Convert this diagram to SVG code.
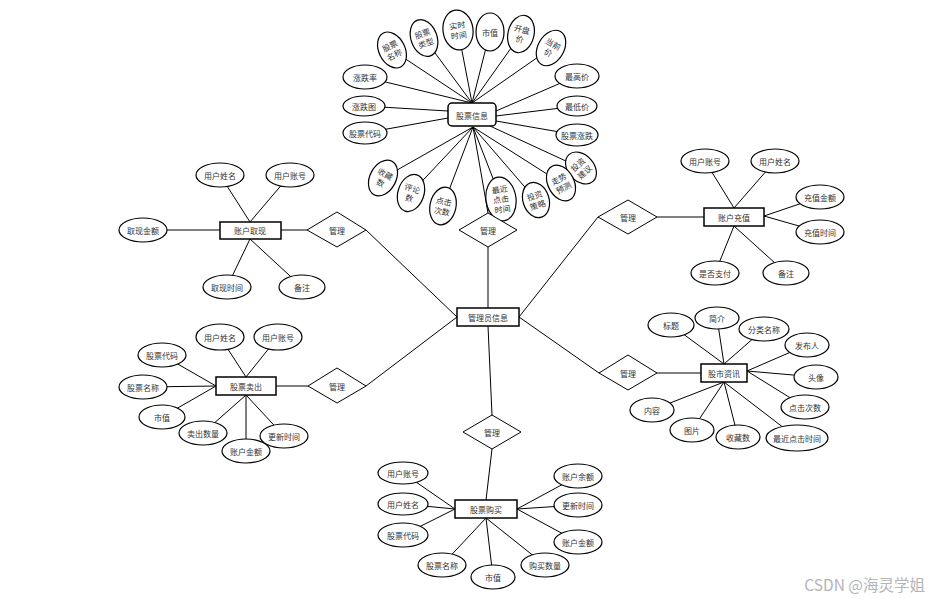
<svg xmlns="http://www.w3.org/2000/svg" width="929" height="599" viewBox="0 0 929 599">
<style>
.bg{fill:#fff}
.c line{stroke:#000;stroke-width:1}
.ent{fill:#fff;stroke:#000;stroke-width:1.5}
.att{fill:#fff;stroke:#000;stroke-width:1.2}
.rel{fill:#fff;stroke:#000;stroke-width:1}
text{font-family:"Noto Sans CJK SC","Noto Sans",sans-serif;font-size:8px;fill:#333;text-anchor:middle;dominant-baseline:central}
.wm{font-size:15.5px;fill:#b4b4b4;text-anchor:end}
</style>
<rect class="bg" width="929" height="599"/>
<g id="connectors" class="c">
<line x1="472" y1="103" x2="392" y2="50"/>
<line x1="472" y1="103" x2="424" y2="38"/>
<line x1="472" y1="103" x2="458" y2="30"/>
<line x1="472" y1="103" x2="490" y2="32"/>
<line x1="472" y1="103" x2="521" y2="34"/>
<line x1="472" y1="103" x2="551" y2="48"/>
<line x1="472" y1="103" x2="365" y2="77"/>
<line x1="496" y1="111" x2="577" y2="76"/>
<line x1="496" y1="116" x2="577" y2="106"/>
<line x1="496" y1="121" x2="577" y2="135"/>
<line x1="448" y1="111" x2="364" y2="106"/>
<line x1="448" y1="118" x2="365" y2="133"/>
<line x1="490" y1="126" x2="581" y2="168"/>
<line x1="473" y1="127" x2="561" y2="183"/>
<line x1="473" y1="127" x2="536" y2="200"/>
<line x1="473" y1="127" x2="501" y2="199"/>
<line x1="473" y1="127" x2="443" y2="206"/>
<line x1="473" y1="127" x2="411" y2="193"/>
<line x1="473" y1="127" x2="383" y2="178"/>
<line x1="473" y1="127" x2="488" y2="213"/>
<line x1="488" y1="247" x2="488" y2="308"/>
<line x1="366" y1="230" x2="457" y2="317"/>
<line x1="366" y1="386" x2="457" y2="317"/>
<line x1="598" y1="217" x2="519" y2="317"/>
<line x1="599" y1="373" x2="519" y2="317"/>
<line x1="488" y1="326" x2="492" y2="415"/>
<line x1="492" y1="449" x2="486" y2="500"/>
<line x1="281" y1="230" x2="307" y2="230"/>
<line x1="657" y1="217" x2="704" y2="217"/>
<line x1="276" y1="386" x2="308" y2="386"/>
<line x1="657" y1="373" x2="701" y2="373"/>
<line x1="250" y1="222" x2="220" y2="175"/>
<line x1="250" y1="222" x2="290" y2="175"/>
<line x1="220" y1="230" x2="143" y2="230"/>
<line x1="250" y1="239" x2="227" y2="287"/>
<line x1="250" y1="239" x2="302" y2="287"/>
<line x1="734" y1="208" x2="705" y2="161"/>
<line x1="734" y1="208" x2="775" y2="161"/>
<line x1="764" y1="216" x2="820" y2="197"/>
<line x1="764" y1="216" x2="820" y2="232"/>
<line x1="734" y1="226" x2="715" y2="273"/>
<line x1="734" y1="226" x2="786" y2="273"/>
<line x1="246" y1="377" x2="220" y2="337"/>
<line x1="246" y1="377" x2="278" y2="337"/>
<line x1="216" y1="386" x2="162" y2="355"/>
<line x1="216" y1="386" x2="143" y2="387"/>
<line x1="216" y1="386" x2="162" y2="417"/>
<line x1="246" y1="395" x2="203" y2="433"/>
<line x1="246" y1="395" x2="246" y2="451"/>
<line x1="246" y1="395" x2="284" y2="436"/>
<line x1="724" y1="364" x2="671" y2="325"/>
<line x1="724" y1="364" x2="717" y2="318"/>
<line x1="724" y1="364" x2="764" y2="329"/>
<line x1="747" y1="371" x2="807" y2="345"/>
<line x1="747" y1="371" x2="816" y2="377"/>
<line x1="747" y1="371" x2="805" y2="407"/>
<line x1="724" y1="382" x2="797" y2="438"/>
<line x1="724" y1="382" x2="738" y2="437"/>
<line x1="724" y1="382" x2="692" y2="430"/>
<line x1="724" y1="382" x2="652" y2="410"/>
<line x1="455" y1="509" x2="403" y2="473"/>
<line x1="455" y1="509" x2="403" y2="504"/>
<line x1="455" y1="509" x2="403" y2="535"/>
<line x1="486" y1="518" x2="442" y2="565"/>
<line x1="486" y1="518" x2="493" y2="577"/>
<line x1="486" y1="518" x2="545" y2="565"/>
<line x1="517" y1="509" x2="578" y2="476"/>
<line x1="517" y1="509" x2="578" y2="505"/>
<line x1="517" y1="509" x2="578" y2="542"/>
</g>

<g id="stock-info">
<rect class="ent" x="448" y="103" width="48" height="23" rx="4" stroke-width="1.3"/>
<text x="472" y="115">股票信息</text>
</g>
<g id="stock-info-attrs">
<g transform="translate(392,50) rotate(-27)"><ellipse class="att" rx="13" ry="19"/><text y="-5">股票</text><text y="5">名称</text></g>
<g transform="translate(424,38) rotate(-20)"><ellipse class="att" rx="13" ry="19"/><text y="-5">股票</text><text y="5">类型</text></g>
<g transform="translate(458,30) rotate(-8)"><ellipse class="att" rx="15" ry="20"/><text y="-5">实时</text><text y="5">时间</text></g>
<g transform="translate(490,32)"><ellipse class="att" rx="14" ry="19"/><text>市值</text></g>
<g transform="translate(521,34) rotate(14)"><ellipse class="att" rx="13" ry="19"/><text y="-5">开盘</text><text y="5">价</text></g>
<g transform="translate(551,48) rotate(30)"><ellipse class="att" rx="13" ry="19"/><text y="-5">当前</text><text y="5">价</text></g>
<g transform="translate(365,77)"><ellipse class="att" rx="22" ry="12"/><text>涨跌率</text></g>
<g transform="translate(364,106)"><ellipse class="att" rx="21" ry="10"/><text>涨跌图</text></g>
<g transform="translate(365,133)"><ellipse class="att" rx="22" ry="11"/><text>股票代码</text></g>
<g transform="translate(577,76)"><ellipse class="att" rx="22" ry="12"/><text>最高价</text></g>
<g transform="translate(577,106)"><ellipse class="att" rx="20" ry="10"/><text>最低价</text></g>
<g transform="translate(577,135)"><ellipse class="att" rx="21" ry="11"/><text>股票涨跌</text></g>
<g transform="translate(581,168) rotate(-42)"><ellipse class="att" rx="13" ry="18"/><text y="-5">投资</text><text y="5">建议</text></g>
<g transform="translate(561,183) rotate(-28)"><ellipse class="att" rx="13" ry="19"/><text y="-5">走势</text><text y="5">预测</text></g>
<g transform="translate(536,200) rotate(-18)"><ellipse class="att" rx="13" ry="18"/><text y="-5">投资</text><text y="5">策略</text></g>
<g transform="translate(501,199) rotate(-8)"><ellipse class="att" rx="15" ry="22"/><text y="-10">最近</text><text y="0">点击</text><text y="10">时间</text></g>
<g transform="translate(443,206) rotate(12)"><ellipse class="att" rx="13" ry="19"/><text y="-5">点击</text><text y="5">次数</text></g>
<g transform="translate(411,193) rotate(18)"><ellipse class="att" rx="13" ry="19"/><text y="-5">评论</text><text y="5">数</text></g>
<g transform="translate(383,178) rotate(28)"><ellipse class="att" rx="13" ry="19"/><text y="-5">收藏</text><text y="5">数</text></g>
</g>

<g id="admin">
<rect class="ent" x="457" y="308" width="62" height="18"/>
<text x="488" y="317">管理员信息</text>
</g>

<g id="rel-stock"><polygon class="rel" points="459,230 488,213 517,230 488,247"/><text x="488" y="230">管理</text></g>
<g id="rel-withdraw"><polygon class="rel" points="307,230 337,212 366,230 337,247"/><text x="337" y="230">管理</text></g>
<g id="rel-recharge"><polygon class="rel" points="598,217 628,200 657,217 628,234"/><text x="628" y="217">管理</text></g>
<g id="rel-sell"><polygon class="rel" points="308,386 337,368 366,386 337,403"/><text x="337" y="386">管理</text></g>
<g id="rel-news"><polygon class="rel" points="599,373 628,355 657,373 628,390"/><text x="628" y="373">管理</text></g>
<g id="rel-buy"><polygon class="rel" points="463,432 492,415 521,432 492,449"/><text x="492" y="432">管理</text></g>

<g id="withdraw">
<rect class="ent" x="220" y="222" width="61" height="17"/>
<text x="250" y="230.5">账户取现</text>
<ellipse class="att" cx="220" cy="175" rx="24" ry="12"/><text x="220" y="175">用户姓名</text>
<ellipse class="att" cx="290" cy="175" rx="24" ry="12"/><text x="290" y="175">用户账号</text>
<ellipse class="att" cx="143" cy="230" rx="24" ry="12"/><text x="143" y="230">取现金额</text>
<ellipse class="att" cx="227" cy="287" rx="24" ry="12"/><text x="227" y="287">取现时间</text>
<ellipse class="att" cx="302" cy="287" rx="23" ry="12"/><text x="302" y="287">备注</text>
</g>

<g id="recharge">
<rect class="ent" x="704" y="208" width="60" height="18"/>
<text x="734" y="217">账户充值</text>
<ellipse class="att" cx="705" cy="161" rx="24" ry="12"/><text x="705" y="161">用户账号</text>
<ellipse class="att" cx="775" cy="161" rx="24" ry="12"/><text x="775" y="161">用户姓名</text>
<ellipse class="att" cx="820" cy="197" rx="24" ry="12"/><text x="820" y="197">充值金额</text>
<ellipse class="att" cx="820" cy="232" rx="24" ry="12"/><text x="820" y="232">充值时间</text>
<ellipse class="att" cx="715" cy="273" rx="24" ry="12"/><text x="715" y="273">是否支付</text>
<ellipse class="att" cx="786" cy="273" rx="23" ry="12"/><text x="786" y="273">备注</text>
</g>

<g id="sell">
<rect class="ent" x="216" y="377" width="60" height="18"/>
<text x="246" y="386">股票卖出</text>
<ellipse class="att" cx="220" cy="337" rx="24" ry="13"/><text x="220" y="337">用户姓名</text>
<ellipse class="att" cx="278" cy="337" rx="24" ry="13"/><text x="278" y="337">用户账号</text>
<ellipse class="att" cx="162" cy="355" rx="24" ry="12"/><text x="162" y="355">股票代码</text>
<ellipse class="att" cx="143" cy="387" rx="24" ry="12"/><text x="143" y="387">股票名称</text>
<ellipse class="att" cx="162" cy="417" rx="23" ry="12"/><text x="162" y="417">市值</text>
<ellipse class="att" cx="203" cy="433" rx="24" ry="12"/><text x="203" y="433">卖出数量</text>
<ellipse class="att" cx="246" cy="451" rx="24" ry="12"/><text x="246" y="451">账户金额</text>
<ellipse class="att" cx="284" cy="436" rx="24" ry="12"/><text x="284" y="436">更新时间</text>
</g>

<g id="news">
<rect class="ent" x="701" y="364" width="46" height="18"/>
<text x="724" y="373">股市资讯</text>
<ellipse class="att" cx="671" cy="325" rx="23" ry="12"/><text x="671" y="325">标题</text>
<ellipse class="att" cx="717" cy="318" rx="22" ry="11"/><text x="717" y="318">简介</text>
<ellipse class="att" cx="764" cy="329" rx="25" ry="12"/><text x="764" y="329">分类名称</text>
<ellipse class="att" cx="807" cy="345" rx="22" ry="12"/><text x="807" y="345">发布人</text>
<ellipse class="att" cx="816" cy="377" rx="22" ry="12"/><text x="816" y="377">头像</text>
<ellipse class="att" cx="805" cy="407" rx="24" ry="12"/><text x="805" y="407">点击次数</text>
<ellipse class="att" cx="797" cy="438" rx="31" ry="13"/><text x="797" y="438">最近点击时间</text>
<ellipse class="att" cx="738" cy="437" rx="22" ry="12"/><text x="738" y="437">收藏数</text>
<ellipse class="att" cx="692" cy="430" rx="22" ry="12"/><text x="692" y="430">图片</text>
<ellipse class="att" cx="652" cy="410" rx="22" ry="12"/><text x="652" y="410">内容</text>
</g>

<g id="buy">
<rect class="ent" x="455" y="500" width="62" height="18"/>
<text x="486" y="509">股票购买</text>
<ellipse class="att" cx="403" cy="473" rx="25" ry="11"/><text x="403" y="473">用户账号</text>
<ellipse class="att" cx="403" cy="504" rx="25" ry="11"/><text x="403" y="504">用户姓名</text>
<ellipse class="att" cx="403" cy="535" rx="25" ry="12"/><text x="403" y="535">股票代码</text>
<ellipse class="att" cx="442" cy="565" rx="24" ry="12"/><text x="442" y="565">股票名称</text>
<ellipse class="att" cx="493" cy="577" rx="22" ry="12"/><text x="493" y="577">市值</text>
<ellipse class="att" cx="545" cy="565" rx="24" ry="12"/><text x="545" y="565">购买数量</text>
<ellipse class="att" cx="578" cy="476" rx="24" ry="12"/><text x="578" y="476">账户余额</text>
<ellipse class="att" cx="578" cy="505" rx="24" ry="12"/><text x="578" y="505">更新时间</text>
<ellipse class="att" cx="578" cy="542" rx="24" ry="12"/><text x="578" y="542">账户金额</text>
</g>

<text class="wm" x="925" y="584">CSDN @海灵学姐</text>
</svg>
